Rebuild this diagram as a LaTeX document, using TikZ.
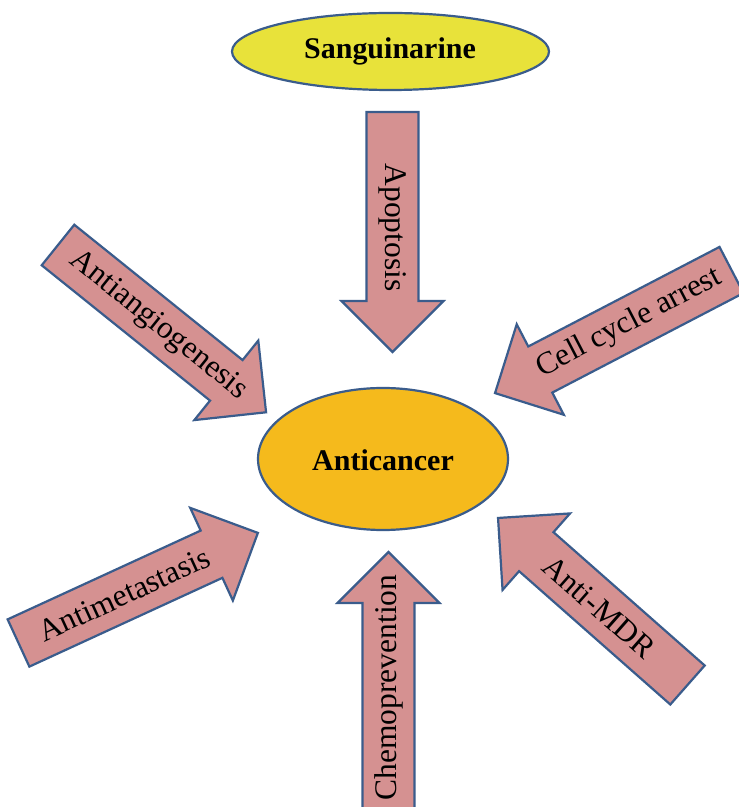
\documentclass[tikz,border=0pt]{standalone}
\usepackage{fontspec}
\setmainfont{Liberation Serif}
\usetikzlibrary{shapes.geometric}
\definecolor{arrowfill}{RGB}{213,145,145}
\definecolor{edgeblue}{RGB}{58,92,140}
\definecolor{sangyellow}{RGB}{232,226,58}
\definecolor{cancergold}{RGB}{245,186,28}
\tikzset{
  arrowbody/.style={fill=arrowfill, draw=edgeblue, line width=2.2pt, line join=miter},
  oval/.style={ellipse, draw=edgeblue, line width=2.2pt, inner sep=0pt},
  titletext/.style={font=\fontsize{30}{34}\selectfont\bfseries, text=black},
  arrowlabel/.style={font=\fontsize{31.5}{36}\selectfont, text=black, inner sep=0pt}
}
\newcommand\fatarrow[3]{%
  \begin{scope}[shift={#1}, rotate=#2]
    \draw[arrowbody] (0,-26) -- ({#3-51},-26) -- ({#3-51},-51) -- (#3,0)
      -- ({#3-51},51) -- ({#3-51},26) -- (0,26) -- cycle;
  \end{scope}}
\begin{document}
\begin{tikzpicture}[x=1pt,y=1pt]
\useasboundingbox (0,0) rectangle (739,807);
\clip (0,0) rectangle (739,807);
\fill[white] (0,0) rectangle (739,807);

% ellipses
\node[oval, fill=sangyellow, minimum width=317pt, minimum height=77pt] (sang) at (390.5,755.5) {};
\node[titletext] (sangtext) at (390,756) {Sanguinarine};
\node[oval, fill=cancergold, minimum width=250pt, minimum height=142pt] (anti) at (383,348) {};
\node[titletext] (antitext) at (383,347) {Anticancer};

% arrows
\fatarrow{(392.5,695)}{-90}{240}
\fatarrow{(58,562)}{-38.8}{267}
\fatarrow{(731.5,537)}{207.5}{266.6}
\fatarrow{(18.5,164)}{24.7}{263.5}
\fatarrow{(687.5,122)}{138.6}{252.6}
\fatarrow{(388.5,-8)}{90}{263}

% labels
\node[arrowlabel, rotate=-90] (apop) at (393,579.5) {Apoptosis};
\node[arrowlabel, rotate=-38.8] (angio) at (158.3,481.3) {Antiangiogenesis};
\node[arrowlabel, rotate=27.5] (cellc) at (629.3,483.8) {Cell cycle arrest};
\node[arrowlabel, rotate=24.7] (meta) at (124.2,212.6) {Antimetastasis};
\node[arrowlabel, rotate=-41.4] (mdr) at (599.2,199.8) {Anti-MDR};
\node[arrowlabel, rotate=90] (chemo) at (389,119.5) {Chemoprevention};
\end{tikzpicture}
\end{document}
